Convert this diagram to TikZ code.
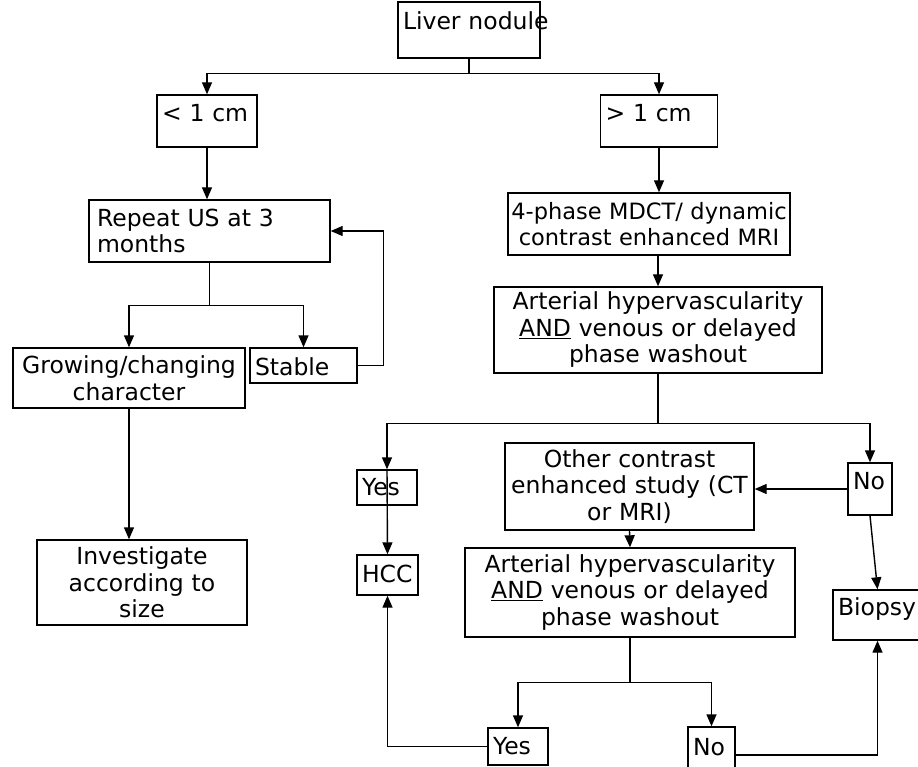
\documentclass[tikz,border=0pt]{standalone}
\usepackage{fontspec}
\setmainfont{DejaVu Sans}
\usetikzlibrary{arrows.meta,positioning}

\begin{document}
\begin{tikzpicture}[x=1pt,y=-1pt,line width=1.4pt,
    box/.style={draw,font=\fontsize{23.5}{26.5}\selectfont,inner xsep=5pt,inner ysep=0pt},
    >={Triangle[length=12pt,width=10pt]}]
    \useasboundingbox (0,0) rectangle (918,767);
    \clip (0,0) rectangle (918,767);
    \node[box,align=left,text width=132pt,text height=28pt,text depth=28pt] (liver) at (469,30) {\mbox{Liver nodule}};
    \node[box,align=left,text width=90pt,text height=27pt,text depth=25pt] (lt) at (207,121) {\mbox{< 1 cm}};
    \node[box,align=left,text width=107pt,text height=27pt,text depth=25pt] (gt) at (659,121) {\mbox{> 1 cm}};
    \node[box,align=left,inner xsep=8pt,text width=225pt,minimum height=62pt] (repeat) at (209.5,231) {Repeat US at 3\\months};
    \node[box,align=center,text width=222pt,minimum height=60pt] (growing) at (129,378) {Growing/changing\\character};
    \node[box,align=left,text width=97pt,text height=27pt,text depth=8pt] (stable) at (303.5,365.5) {\mbox{Stable}};
    \node[box,align=center,text width=200pt,minimum height=85pt] (investigate) at (142,582.5) {Investigate\\according to\\size};
    \node[box,align=center,inner xsep=2pt,text width=278pt,minimum height=62pt,font=\fontsize{22.5}{26.5}\selectfont] (phase) at (649,224) {4-phase MDCT/ dynamic\\contrast enhanced MRI};
    \node[box,align=center,text width=318pt,minimum height=86pt] (art1) at (658,330) {Arterial hypervascularity\\\underline{AND} venous or delayed\\phase washout};
    \node[box,align=left,text width=50pt,text height=25pt,text depth=10pt] (yes1) at (387,487.5) {\mbox{Yes}};
    \node[box,align=left,text width=34pt,text height=26pt,text depth=26pt] (no1) at (870,489) {\mbox{No}};
    \node[box,align=center,inner xsep=2pt,text width=245pt,minimum height=87pt] (other) at (629.5,486.5) {Other contrast\\enhanced study (CT\\or MRI)};
    \node[box,align=left,text width=51pt,text height=27pt,text depth=13pt] (hcc) at (387.5,575) {\mbox{HCC}};
    \node[box,align=center,text width=320pt,minimum height=89pt] (art2) at (630,592.5) {Arterial hypervascularity\\\underline{AND} venous or delayed\\phase washout};
    \node[box,align=left,text width=79pt,text height=25pt,text depth=25pt] (biopsy) at (877.5,615) {\mbox{Biopsy}};
    \node[box,align=left,text width=50pt,text height=26pt,text depth=11pt] (yes2) at (518,746.5) {\mbox{Yes}};
    \node[box,align=left,text width=37pt,text height=28pt,text depth=28pt] (no2) at (711.5,755) {\mbox{No}};

    \draw (liver.south) -- ++(0,15) coordinate (s0);
    \draw[->] (s0) -| (lt.north);
    \draw[->] (s0) -| (gt.north);
    \draw[->] (lt.south) -- (repeat.north -| lt.south);
    \draw (repeat.south) -- ++(0,43) coordinate (s1);
    \draw[->] (s1) -| (growing.north);
    \draw[->] (s1) -| (stable.north);
    \draw[->] (stable.east) -- ++(26,0) |- (repeat.east);
    \draw[->] (growing.south) -- (investigate.north -| growing.south);
    \draw[->] (gt.south) -- (phase.north -| gt.south);
    \draw[->] (phase.south -| art1.north) -- (art1.north);
    \draw (art1.south) -- ++(0,50) coordinate (s2);
    \draw[->] (s2) -| (yes1.north);
    \draw[->] (s2) -| (no1.north);
    \draw[->] (yes1.north) -- (hcc.north);
    \draw[->] (no1.west) -- (no1.west -| other.east);
    \draw[->] (no1.south) -- (biopsy.north);
    \draw[->] (other.south) -- (art2.north);
    \draw (art2.south) -- ++(0,45) coordinate (s3);
    \draw[->] (s3) -| (yes2.north);
    \draw[->] (s3) -| (no2.north);
    \draw[->] (yes2.west) -| (hcc.south);
    \draw[->] (no2.east) -| (biopsy.south);
\end{tikzpicture}
\end{document}
